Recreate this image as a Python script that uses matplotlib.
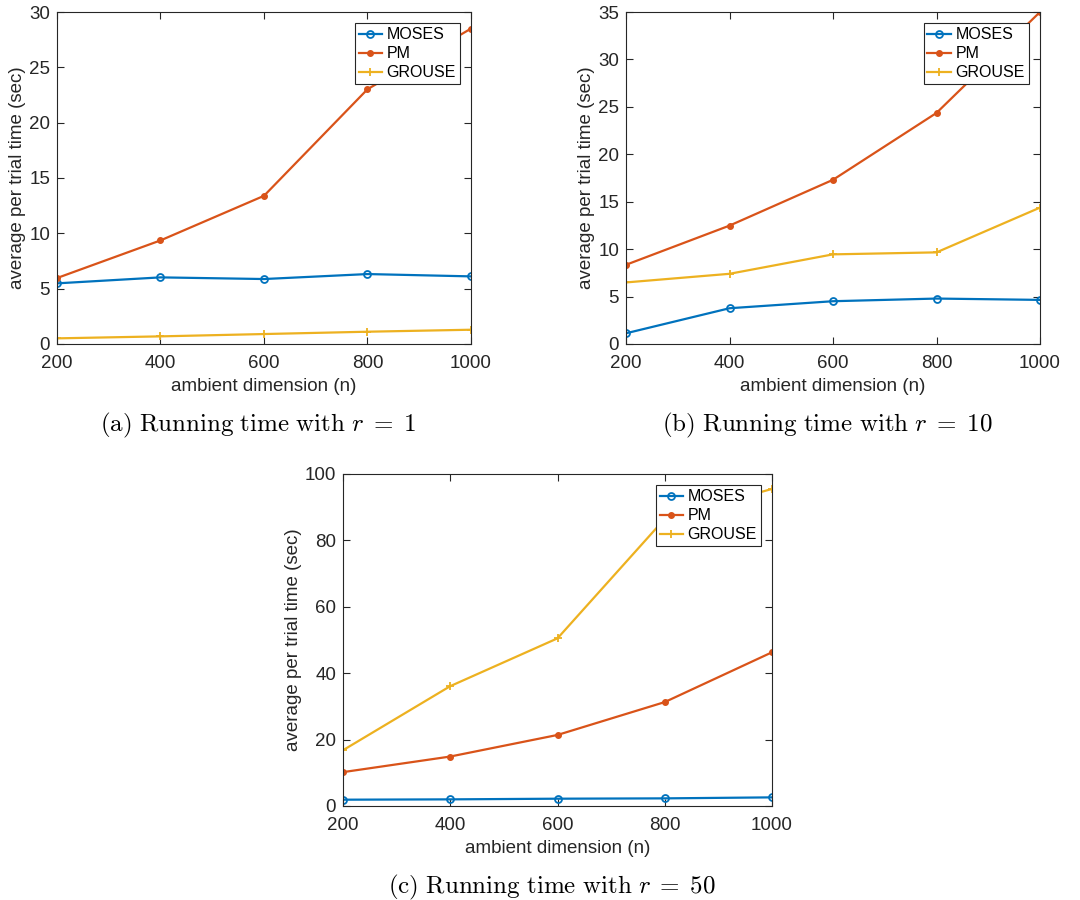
import matplotlib
matplotlib.use("Agg")
import matplotlib.pyplot as plt

plt.rcParams['font.family'] = ['Liberation Sans', 'DejaVu Sans']
plt.rcParams['mathtext.fontset'] = 'cm'

n_vals = [200, 400, 600, 800, 1000]

# Panel (a): r = 1
moses_r1 = [5.48, 6.02, 5.87, 6.32, 6.11]
pm_r1 = [5.96, 9.36, 13.39, 23.02, 28.5]
grouse_r1 = [0.51, 0.69, 0.90, 1.11, 1.29]

# Panel (b): r = 10
moses_r10 = [1.13, 3.77, 4.51, 4.79, 4.65]
pm_r10 = [8.35, 12.48, 17.31, 24.36, 35.0]
grouse_r10 = [6.49, 7.40, 9.45, 9.66, 14.38]

# Panel (c): r = 50
moses_r50 = [1.9, 2.0, 2.2, 2.3, 2.6]
pm_r50 = [10.2, 14.9, 21.4, 31.3, 46.3]
grouse_r50 = [16.8, 36.1, 50.5, 86.5, 95.5]

series_names = ['MOSES', 'PM', 'GROUSE']
xticks = [200, 400, 600, 800, 1000]
yticks_a = [0, 5, 10, 15, 20, 25, 30]
yticks_b = [0, 5, 10, 15, 20, 25, 30, 35]
yticks_c = [0, 20, 40, 60, 80, 100]
captions = [r'$\mathrm{(a)\ Running\ time\ with\ }r\;=\;1$',
            r'$\mathrm{(b)\ Running\ time\ with\ }r\;=\;10$',
            r'$\mathrm{(c)\ Running\ time\ with\ }r\;=\;50$']

colors = ['#0072BD', '#D95319', '#EDB120']
ax_col = '#262626'

W, H = 1080, 900
fig = plt.figure(figsize=(W / 100, H / 100), dpi=100)

def px_axes(l, t, r, b):
    return fig.add_axes([l / W, 1 - b / H, (r - l) / W, (b - t) / H])

panels = [
    (px_axes(57, 12, 471, 344), moses_r1, pm_r1, grouse_r1, yticks_a, captions[0], 425),
    (px_axes(626, 12, 1040, 344), moses_r10, pm_r10, grouse_r10, yticks_b, captions[1], 425),
    (px_axes(343, 474, 772, 806), moses_r50, pm_r50, grouse_r50, yticks_c, captions[2], 887),
]

for ax, m, p, g, yt, cap, capy in panels:
    ax.plot(n_vals, m, color=colors[0], lw=1.6, marker='o', ms=5,
            mfc='none', mew=1.3, label=series_names[0])
    ax.plot(n_vals, p, color=colors[1], lw=1.6, marker='o', ms=4,
            mfc=colors[1], mec=colors[1], label=series_names[1])
    ax.plot(n_vals, g, color=colors[2], lw=1.6, marker='+', ms=6,
            mew=1.3, label=series_names[2])
    ax.set_xlim(200, 1000)
    ax.set_ylim(yt[0], yt[-1])
    ax.set_xticks(xticks)
    ax.set_yticks(yt)
    ax.tick_params(direction='in', top=True, right=True, length=5,
                   width=0.8, colors=ax_col, labelsize=13.5)
    ax.tick_params(axis='x', pad=8)
    ax.tick_params(axis='y', pad=5)
    for s in ax.spines.values():
        s.set_color(ax_col)
        s.set_linewidth(0.8)
    ax.set_xlabel('ambient dimension (n)', fontsize=13.5, color=ax_col, labelpad=4)
    ax.set_ylabel('average per trial time (sec)', fontsize=13.5, color=ax_col, labelpad=2)
    leg = ax.legend(loc='upper right', fontsize=11.5, handlelength=1.5,
                    handletextpad=0.25, borderpad=0.25, labelspacing=0.25,
                    fancybox=False, framealpha=1, borderaxespad=0.7)
    leg.get_frame().set_edgecolor(ax_col)
    leg.get_frame().set_linewidth(0.8)
    pos = ax.get_position()
    fig.text(pos.x0 + pos.width / 2 - 6 / W, 1 - capy / H, cap, ha='center',
             va='center', fontsize=18, color='black')

fig.savefig('out.png', dpi=100, facecolor='white')
